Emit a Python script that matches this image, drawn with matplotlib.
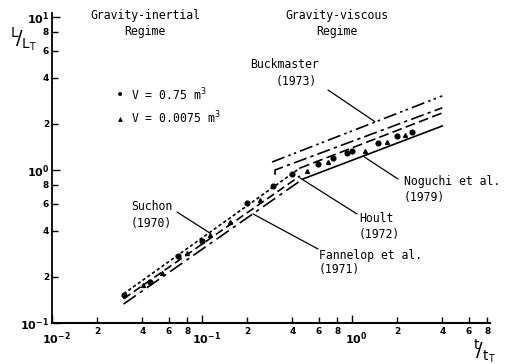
import matplotlib
matplotlib.use("Agg")
import matplotlib.pyplot as plt
import matplotlib.transforms as mtransforms
from matplotlib.ticker import FixedLocator, FuncFormatter

# ---------------- data ----------------
dot_t = [0.030, 0.045, 0.069, 0.100, 0.20, 0.297, 0.398, 0.593, 0.746, 0.926, 1.00, 1.49, 2.00, 2.51]
dot_L = [0.152, 0.185, 0.274, 0.344, 0.608, 0.785, 0.942, 1.094, 1.197, 1.29, 1.33, 1.50, 1.68, 1.78]
tri_t = [0.0405, 0.054, 0.0794, 0.113, 0.154, 0.244, 0.50, 0.69, 1.22, 1.71, 2.26]
tri_L = [0.177, 0.212, 0.287, 0.376, 0.457, 0.637, 0.984, 1.13, 1.33, 1.53, 1.69]

suchon_t = [0.030, 0.45]
suchon_L = [0.155, 1.03]
hoult_in_t = [0.030, 0.45]
hoult_in_L = [0.144, 0.914]
fannelop_t = [0.030, 0.47]
fannelop_L = [0.133, 0.873]
buck_t = [0.293, 4.0]
buck_L = [1.127, 3.05]
hoult_v_t = [0.307, 0.307, 4.0]
hoult_v_L = [0.93, 1.0, 2.55]
third_t = [0.45, 4.0]
third_L = [1.03, 2.36]
noguchi_t = [0.47, 4.0]
noguchi_L = [0.873, 1.94]

xmajor = [0.01, 0.1, 1.0]
xmajor_labels = [r"$\mathbf{10^{-2}}$", r"$\mathbf{10^{-1}}$", r"$\mathbf{10^{0}}$"]
ymajor = [0.1, 1.0, 10.0]
ymajor_labels = [r"$\mathbf{10^{-1}}$", r"$\mathbf{10^{0}}$", r"$\mathbf{10^{1}}$"]
minor_mult = [2, 4, 6, 8]

# ---------------- figure ----------------
W, H = 514, 364
fig = plt.figure(figsize=(W / 100, H / 100), dpi=100)
ax = fig.add_axes([52 / W, 41 / H, 438 / W, 310 / H])

def P(px, py):
    return (px / W, 1 - py / H)

ax.set_xscale("log")
ax.set_yscale("log")
ax.set_xlim(0.01, 10 ** 0.92)
ax.set_ylim(0.1, 10 ** 1.026)

for s in ["top", "right"]:
    ax.spines[s].set_visible(False)
ax.spines["left"].set_linewidth(1.3)
ax.spines["bottom"].set_linewidth(1.5)

# ticks
ax.xaxis.set_major_locator(FixedLocator(xmajor))
ax.yaxis.set_major_locator(FixedLocator(ymajor))
xminor = [m * d for d in [0.01, 0.1, 1.0] for m in minor_mult]
yminor = [m * d for d in [0.1, 1.0] for m in minor_mult]
ax.xaxis.set_minor_locator(FixedLocator(xminor))
ax.yaxis.set_minor_locator(FixedLocator(yminor))
ax.xaxis.set_major_formatter(FuncFormatter(lambda v, p: xmajor_labels[xmajor.index(v)] if v in xmajor else ""))
ax.yaxis.set_major_formatter(FuncFormatter(lambda v, p: ymajor_labels[ymajor.index(v)] if v in ymajor else ""))
minor_fmt = FuncFormatter(lambda v, p: "%d" % round(v / 10 ** int(f"{v:e}".split("e")[1])))
ax.xaxis.set_minor_formatter(minor_fmt)
ax.yaxis.set_minor_formatter(minor_fmt)
ax.tick_params(which="both", direction="in", width=1.0)
ax.tick_params(which="major", length=6, labelsize=8)
ax.tick_params(which="minor", length=4, labelsize=6.5)
ax.tick_params(axis="x", which="minor", pad=3)
ax.tick_params(axis="x", which="major", pad=5)
ax.tick_params(axis="y", which="both", pad=2)
for lab in ax.get_xticklabels(which="minor") + ax.get_yticklabels(which="minor"):
    lab.set_fontweight("bold")
shift = mtransforms.ScaledTranslation(4 / 100, 0, fig.dpi_scale_trans)
for lab in ax.get_xticklabels(which="major"):
    lab.set_transform(lab.get_transform() + shift)

lw = 1.2
ax.plot(suchon_t, suchon_L, color="black", lw=lw, linestyle=(0, (2, 1.5)))
ax.plot(hoult_in_t, hoult_in_L, color="black", lw=lw, linestyle=(0, (5, 2.5)))
ax.plot(fannelop_t, fannelop_L, color="black", lw=lw, linestyle=(0, (9, 3, 2, 3)))
ax.plot(buck_t, buck_L, color="black", lw=lw, linestyle=(0, (8, 2.5, 1.5, 2, 1.5, 2.5)))
ax.plot(hoult_v_t, hoult_v_L, color="black", lw=lw, linestyle=(0, (8, 2.5, 2, 2.5)))
ax.plot(third_t, third_L, color="black", lw=lw, linestyle=(0, (6, 2.5)))
ax.plot(noguchi_t, noguchi_L, color="black", lw=lw, linestyle="-")

ax.plot(dot_t, dot_L, "o", color="black", ms=3.4, zorder=5)
ax.plot(tri_t, tri_L, "^", color="black", ms=2.8, zorder=5)

mono = "DejaVu Sans Mono"
fs = 8.3

# regime titles
fig.text(*P(145, 15), "Gravity-inertial", family=mono, fontsize=fs, ha="center", va="center")
fig.text(*P(145, 32), "Regime", family=mono, fontsize=fs, ha="center", va="center")
fig.text(*P(337, 15), "Gravity-viscous", family=mono, fontsize=fs, ha="center", va="center")
fig.text(*P(337, 32), "Regime", family=mono, fontsize=fs, ha="center", va="center")

# legend
fig.text(*P(120.5, 95), "\u2022", fontsize=10, ha="center", va="center")
fig.text(*P(131, 95), r"V = 0.75 m$^{3}$", family=mono, fontsize=fs, ha="left", va="center")
fig.text(*P(120.5, 118), "\u25b4", fontsize=7, ha="center", va="center")
fig.text(*P(131, 118), r"V = 0.0075 m$^{3}$", family=mono, fontsize=fs, ha="left", va="center")

# axis labels
fig.text(*P(24, 39), r"$^{\mathrm{L}}\!/_{\mathrm{L}_{\mathrm{T}}}$", fontsize=14, ha="center", va="center")
fig.text(*P(484, 351), r"$^{\mathrm{t}}\!/_{\mathrm{t}_{\mathrm{T}}}$", fontsize=14, ha="center", va="center")

# annotations
arrow = dict(arrowstyle="-", lw=0.9, color="black", shrinkA=0, shrinkB=0)
def note(lines, anchor, target, tail):
    (x1, y1), (x2, y2) = anchor
    fig.text(*P(x1, y1), lines[0], family=mono, fontsize=fs, ha="left", va="center")
    fig.text(*P(x2, y2), lines[1], family=mono, fontsize=fs, ha="left", va="center")
    ax.annotate("", xy=target, xycoords="data", xytext=P(*tail), textcoords="figure fraction",
                arrowprops=arrow)

note(["Buckmaster", "(1973)"], [(250, 65), (276, 81)], (1.42, 2.07), (328, 90))
note(["Suchon", "(1970)"], [(131, 207), (131, 223)], (0.113, 0.387), (177, 212))
note(["Noguchi et al.", "(1979)"], [(404, 181), (404, 197)], (1.18, 1.235), (398, 179))
note(["Hoult", "(1972)"], [(359, 218), (359, 234)], (0.45, 0.887), (357, 214))
note(["Fannelop et al.", "(1971)"], [(319, 255), (319, 270)], (0.219, 0.516), (318, 249))

fig.savefig("out.png", dpi=100)
